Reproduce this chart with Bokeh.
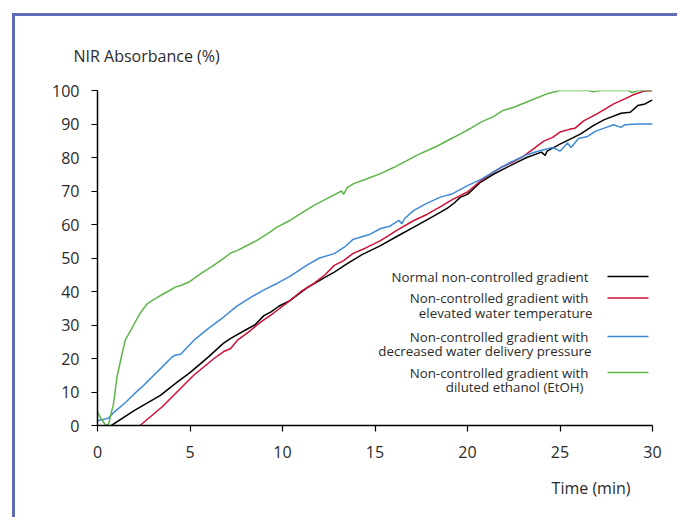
from bokeh.plotting import figure
from bokeh.models import Range1d, Label, Title, FixedTicker
from bokeh.embed import file_html
from bokeh.resources import INLINE

# ---------------- data ----------------
black_t = [0.75, 2.0, 3.4, 4.2, 5.0, 6.0, 6.8, 7.2, 8.0, 8.5, 9.0, 9.4, 9.8, 10.4, 11.3, 12.2, 12.8,
           13.5, 14.3, 15.3, 16.2, 17.1, 18.0, 18.9, 19.3, 19.6, 20.0, 20.7, 21.4, 22.1, 23.2, 24.0,
           24.2, 24.3, 25.0, 26.1, 26.8, 27.4, 28.3, 28.8, 29.2, 29.6, 30.0]
black_v = [0, 4.5, 9, 12.5, 15.8, 20.5, 24.5, 26, 28.5, 30, 32.8, 34, 35.6, 37.3, 41, 43.9, 45.8,
           48.3, 51, 53.7, 56.5, 59.2, 62, 64.8, 66.5, 68.1, 69, 72.6, 75, 77, 80, 81.6,
           80.6, 81.9, 84, 87, 89.5, 91.3, 93.2, 93.5, 95.5, 96, 97.2]

red_t = [2.3, 3.5, 5.2, 6.3, 6.8, 7.2, 7.55, 8.3, 8.8, 9.5, 10.4, 11.0, 11.7, 12.3, 12.8, 13.3,
         13.8, 14.5, 15.3, 16.2, 17.1, 17.8, 18.5, 19.2, 20.0, 20.7, 21.4, 21.8, 22.4, 23.0, 23.6,
         24.1, 24.6, 25.0, 25.5, 25.8, 26.3, 27.0, 27.9, 28.5, 29.0, 29.5, 30.0]
red_v = [0, 5.6, 15, 20, 22, 23, 25.4, 28.5, 30.8, 33.5, 37.3, 40, 42.4, 45, 47.8, 49.2,
         51.3, 53, 55.2, 58.3, 61.2, 63, 65.2, 67.5, 69.7, 73, 75.6, 77, 78.5, 80.3, 82.7,
         84.8, 86, 87.6, 88.4, 88.7, 91, 93, 96, 97.5, 98.8, 99.8, 100]

blue_t = [0, 0.3, 0.6, 0.9, 1.5, 2.0, 2.5, 3.0, 3.5, 4.0, 4.2, 4.5, 5.2, 6.0, 6.8, 7.5, 8.3, 9.0,
          9.7, 10.4, 11.3, 12.0, 12.8, 13.4, 13.8, 14.2, 14.7, 15.3, 15.8, 16.3, 16.45, 16.6,
          17.1, 17.8, 18.5, 19.2, 20.0, 20.7, 21.5, 22.3, 23.2, 23.9, 24.6, 25.0, 25.4, 25.6,
          26.0, 26.5, 26.9, 27.5, 27.9, 28.3, 28.5, 29.2, 30.0]
blue_v = [1.5, 1.8, 2.2, 4, 6.8, 9.5, 12, 14.8, 17.5, 20.3, 21, 21.3, 25.4, 29, 32.3, 35.5, 38.3, 40.5,
          42.4, 44.5, 47.8, 50, 51.3, 53.5, 55.5, 56.2, 57, 58.8, 59.5, 61.2, 60.2, 61.8,
          64.2, 66.3, 68.1, 69.2, 71.6, 73.4, 76, 78.5, 80.8, 82, 83, 81.9, 84.3, 83,
          85.7, 86.3, 87.8, 89, 89.8, 89, 89.8, 90, 90]

green_t = [0, 0.2, 0.45, 0.6, 0.75, 0.85, 0.95, 1.05, 1.33, 1.5, 1.65, 1.8, 1.95, 2.3, 2.7, 3.1,
           3.6, 3.9, 4.2, 4.5, 5.0, 5.6, 6.2, 6.8, 7.2, 7.55, 8.0, 8.6, 9.2, 9.7, 10.4, 11.0,
           11.7, 12.5, 13.2, 13.3, 13.5, 13.85, 14.5, 15.3, 16.0, 16.7, 17.3, 17.8, 18.4, 19.0,
           19.6, 20.1, 20.7, 21.4, 21.9, 22.5, 23.4, 24.3, 25.0, 26.5, 26.8, 27.2, 28.7, 28.9,
           29.2, 30.0]
green_v = [4, 2, 0, 0.5, 4, 6, 10, 14.4, 21.5, 25.5, 27, 28.4, 30, 33.5, 36.4, 37.8,
           39.4, 40.3, 41.3, 41.8, 43, 45.4, 47.5, 49.8, 51.5, 52.2, 53.5, 55.2, 57.3, 59.2, 61.2, 63.3,
           65.7, 68, 70, 69, 71, 72.2, 73.5, 75.2, 77, 79, 80.8, 82, 83.5, 85.3,
           87, 88.5, 90.5, 92.2, 94, 95, 97, 99, 100, 100, 99.6, 100, 100, 99.4,
           100, 100]

series_names = [
    ["Normal non-controlled gradient"],
    ["Non-controlled gradient with", "elevated water temperature"],
    ["Non-controlled gradient with", "decreased water delivery pressure"],
    ["Non-controlled gradient with", "diluted ethanol (EtOH)"],
]
x_ticks = [0, 5, 10, 15, 20, 25, 30]
y_ticks = [0, 10, 20, 30, 40, 50, 60, 70, 80, 90, 100]
x_title = "Time (min)"
y_title = "NIR Absorbance (%)"

# ---------------- layout ----------------
OX, OY = 15, 16            # page frame offset (left bar / top bar)
W, H = 680 - OX, 520 - OY
L, R, T, B = 97 - OX, 652 - OX, 90 - OY, 425 - OY
colors = ["#000000", "#cc1137", "#3f8ad6", "#5db549"]
FONT = "Open Sans"
TXT = "#2b2b2b"
frame_col = "#5f6db5"

p = figure(width=W, height=H, output_backend="svg", toolbar_location=None,
           x_range=Range1d(0, 30), y_range=Range1d(0, 100),
           min_border_left=L, min_border_right=W - R, min_border_top=T, min_border_bottom=H - B)
p.styles = {"margin-left": "12px", "margin-top": "13px",
            "border-left": "3px solid " + frame_col, "border-top": "3px solid " + frame_col}
p.outline_line_color = None
p.grid.visible = False
p.background_fill_color = "white"
p.border_fill_color = "white"

for ax in (p.xaxis[0], p.yaxis[0]):
    ax.axis_line_color = "black"
    ax.axis_line_width = 1.5
    ax.major_tick_line_color = "black"
    ax.major_tick_line_width = 1.2
    ax.major_tick_in = 0
    ax.major_tick_out = 6
    ax.minor_tick_line_color = None
    ax.major_label_text_font = FONT
    ax.major_label_text_font_size = "16px"
    ax.major_label_text_color = TXT
p.xaxis.ticker = FixedTicker(ticks=x_ticks)
p.yaxis.ticker = FixedTicker(ticks=y_ticks)
p.xaxis.major_label_standoff = 14
p.yaxis.major_label_standoff = 12

data = [(black_t, black_v), (red_t, red_v), (blue_t, blue_v), (green_t, green_v)]
for (t, v), c in zip(data, colors):
    p.line(t, v, line_color=c, line_width=1.5)

# axis titles
p.add_layout(Title(text=y_title, align="left", offset=-24, standoff=47, text_font=FONT,
                   text_font_size="16px", text_font_style="normal", text_color=TXT), "above")
p.add_layout(Title(text=x_title, align="right", offset=22, standoff=28, text_font=FONT,
                   text_font_size="16px", text_font_style="normal", text_color=TXT), "below")


def dx(px):
    return (px - 97) / (652 - 97) * 30


def dy(py):
    return (425 - py) / (425 - 90) * 100


# legend (text on the left, sample line on the right)
entry_y = [276, 297.5, 336, 372]
line_gap = 14.5
right_edges = [[588], [588, 592], [588, 591], [588, 583]]
for names, ey, rights, c in zip(series_names, entry_y, right_edges, colors):
    for k, (nm, rx) in enumerate(zip(names, rights)):
        p.add_layout(Label(x=dx(rx), y=dy(ey + k * line_gap), text=nm, text_font=FONT,
                           text_font_size="13.3px", text_color=TXT,
                           text_baseline="middle", text_align="right"))
    p.line([dx(607), dx(648)], [dy(ey), dy(ey)], line_color=c, line_width=1.5)

open("out.html", "w").write(file_html(p, INLINE))
